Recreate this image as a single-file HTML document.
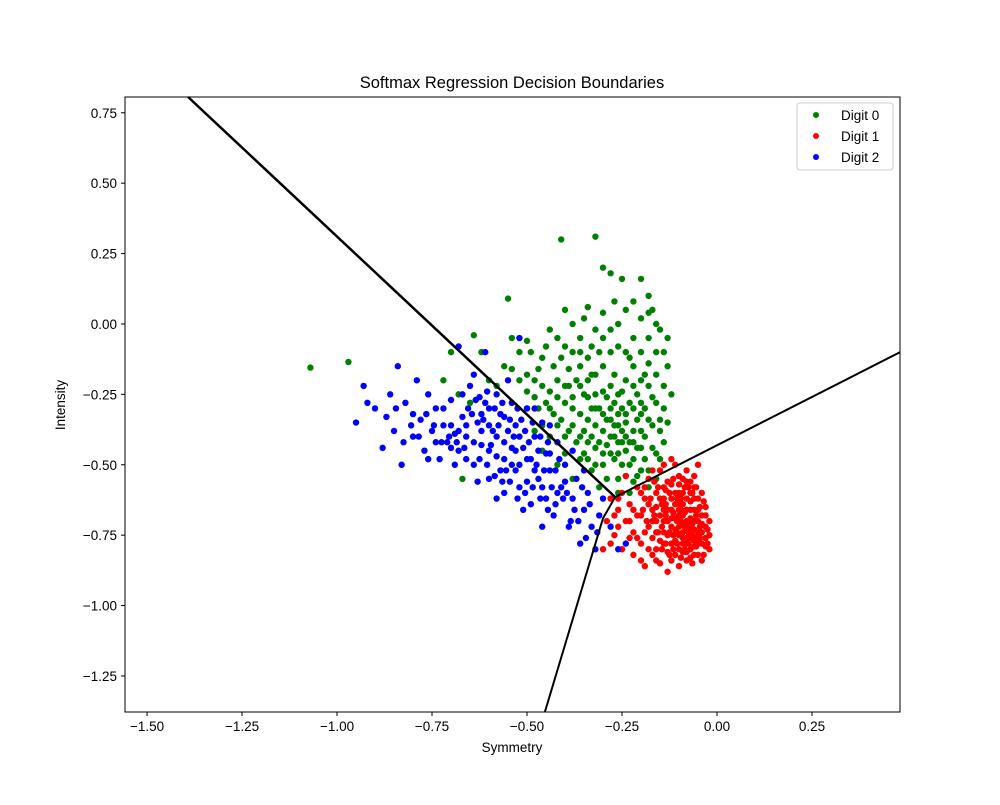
<!DOCTYPE html>
<html><head><meta charset="utf-8"><style>
body{margin:0;background:#fff;}
svg text{font-family:"Liberation Sans","DejaVu Sans",sans-serif;}
</style></head><body>
<svg id="chart" width="1000" height="800" viewBox="0 0 1000 800">
<rect width="1000" height="800" fill="#fff"/>
<text x="512" y="88" text-anchor="middle" font-size="16.5">Softmax Regression Decision Boundaries</text>
<g id="points"></g>
<g id="bounds"></g>
<rect x="125" y="97" width="775" height="615" fill="none" stroke="#000" stroke-width="1"/>
<g id="axes"></g>
<text x="512" y="752" text-anchor="middle" font-size="13.5">Symmetry</text>
<text x="65" y="405" text-anchor="middle" font-size="13.5" transform="rotate(-90 65 405)">Intensity</text>
<g>
<rect x="797" y="103" width="96" height="67" rx="3" fill="#fff" fill-opacity="0.8" stroke="#ccc"/>
<g><circle cx="816" cy="115" r="3" fill="#008000"/><text x="841" y="120" font-size="13.5">Digit 0</text></g>
<g><circle cx="816" cy="136" r="3" fill="#ff0000"/><text x="841" y="141" font-size="13.5">Digit 1</text></g>
<g><circle cx="816" cy="157" r="3" fill="#0000ff"/><text x="841" y="162" font-size="13.5">Digit 2</text></g>
</g>
</svg>
<script>
const xTicks=[-1.5,-1.25,-1.0,-0.75,-0.5,-0.25,0.0,0.25];
const xTickLabels=["−1.50","−1.25","−1.00","−0.75","−0.50","−0.25","0.00","0.25"];
const yTicks=[0.75,0.5,0.25,0.0,-0.25,-0.5,-0.75,-1.0,-1.25];
const yTickLabels=["0.75","0.50","0.25","0.00","−0.25","−0.50","−0.75","−1.00","−1.25"];
const greenPoints=[[-0.42,-0.05],[-0.40,0.05],[-0.38,-0.10],[-0.36,-0.15],[-0.35,0.02],[-0.34,-0.20],[-0.33,-0.08],[-0.32,0.31],[-0.41,0.30],[-0.30,0.20],[-0.28,0.18],[-0.25,0.16],[-0.20,0.16],[-0.18,0.10],[-0.17,0.05],[-0.15,-0.02],[-0.14,-0.10],[-0.13,-0.15],[-0.12,-0.25],[-0.13,-0.35],[-0.14,-0.42],[-0.15,-0.48],[-0.16,-0.55],[-0.18,-0.58],[-0.20,-0.52],[-0.22,-0.48],[-0.24,-0.45],[-0.26,-0.42],[-0.28,-0.40],[-0.30,-0.38],[-0.32,-0.36],[-0.34,-0.34],[-0.36,-0.32],[-0.38,-0.30],[-0.40,-0.28],[-0.42,-0.26],[-0.44,-0.24],[-0.46,-0.22],[-0.48,-0.20],[-0.50,-0.18],[-0.52,-0.10],[-0.54,-0.05],[-0.55,0.09],[-0.56,-0.15],[-0.58,-0.22],[-0.60,-0.20],[-0.62,-0.10],[-0.64,-0.04],[-0.65,-0.28],[-0.68,-0.25],[-0.70,-0.10],[-0.72,-0.20],[-0.67,-0.55],[-0.50,-0.30],[-0.48,-0.38],[-0.46,-0.45],[-0.44,-0.40],[-0.42,-0.50],[-0.40,-0.46],[-0.38,-0.55],[-0.36,-0.48],[-0.34,-0.42],[-0.32,-0.50],[-0.30,-0.46],[-0.28,-0.30],[-0.26,-0.25],[-0.24,-0.20],[-0.22,-0.15],[-0.20,-0.10],[-0.18,-0.22],[-0.16,-0.28],[-0.20,-0.32],[-0.22,-0.38],[-0.24,-0.35],[-0.26,-0.32],[-0.28,-0.22],[-0.30,-0.15],[-0.32,-0.25],[-0.34,-0.12],[-0.36,-0.05],[-0.38,0.00],[-0.30,-0.05],[-0.28,-0.10],[-0.26,0.00],[-0.24,0.05],[-0.22,-0.05],[-0.20,0.02],[-0.18,-0.05],[-0.16,-0.18],[-0.14,-0.30],[-0.19,-0.40],[-0.21,-0.44],[-0.23,-0.28],[-0.25,-0.38],[-0.27,-0.48],[-0.29,-0.55],[-0.31,-0.58],[-0.33,-0.30],[-0.35,-0.25],[-0.37,-0.20],[-0.39,-0.38],[-0.41,-0.34],[-0.43,-0.15],[-0.45,-0.08],[-0.47,-0.30],[-0.49,-0.10],[-1.07,-0.155],[-0.97,-0.135],[-0.23,-0.60],[-0.26,-0.55],[-0.17,-0.36],[-0.15,-0.38],[-0.21,-0.25],[-0.27,-0.36],[-0.31,-0.30],[-0.33,-0.40],[-0.29,-0.43],[-0.25,-0.42],[-0.23,-0.50],[-0.27,-0.28],[-0.29,-0.34],[-0.25,-0.30],[-0.21,-0.34],[-0.19,-0.30],[-0.23,-0.42],[-0.27,-0.40],[-0.31,-0.42],[-0.35,-0.38],[-0.37,-0.42],[-0.39,-0.22],[-0.41,-0.12],[-0.43,-0.32],[-0.45,-0.28],[-0.47,-0.16],[-0.39,-0.16],[-0.33,-0.18],[-0.31,-0.10],[-0.27,-0.18],[-0.23,-0.12],[-0.19,-0.18],[-0.17,-0.26],[-0.15,-0.34],[-0.17,-0.44],[-0.19,-0.48],[-0.21,-0.54],[-0.25,-0.50],[-0.35,-0.46],[-0.33,-0.52],[-0.29,-0.26],[-0.25,-0.24],[-0.24,-0.32],[-0.22,-0.30],[-0.20,-0.28],[-0.26,-0.36],[-0.28,-0.34],[-0.22,-0.42],[-0.20,-0.38],[-0.18,-0.34],[-0.24,-0.40],[-0.26,-0.46],[-0.28,-0.46],[-0.30,-0.50],[-0.32,-0.44],[-0.34,-0.48],[-0.36,-0.40],[-0.38,-0.36],[-0.40,-0.40],[-0.42,-0.36],[-0.44,-0.30],[-0.46,-0.36],[-0.48,-0.26],[-0.50,-0.24],[-0.52,-0.20],[-0.54,-0.16],[-0.30,-0.24],[-0.32,-0.18],[-0.34,-0.26],[-0.36,-0.22],[-0.38,-0.26],[-0.40,-0.22],[-0.30,-0.32],[-0.32,-0.30],[-0.22,-0.22],[-0.20,-0.20],[-0.18,-0.14],[-0.16,-0.10],[-0.24,-0.10],[-0.26,-0.08],[-0.28,-0.02],[-0.30,0.04],[-0.32,-0.02],[-0.34,0.06],[-0.22,0.08],[-0.20,-0.44],[-0.22,-0.56],[-0.18,-0.52],[-0.16,-0.46],[-0.14,-0.22],[-0.13,-0.05],[-0.16,0.00],[-0.18,0.04],[-0.27,0.08],[-0.36,-0.10],[-0.40,-0.08],[-0.44,-0.02],[-0.46,-0.12],[-0.42,-0.20],[-0.50,-0.06],[-0.24,-0.54],[-0.26,-0.60]];
const redPoints=[[-0.02,-0.80],[-0.03,-0.72],[-0.03,-0.65],[-0.04,-0.78],[-0.04,-0.68],[-0.05,-0.62],[-0.05,-0.74],[-0.05,-0.82],[-0.06,-0.70],[-0.06,-0.58],[-0.06,-0.77],[-0.07,-0.66],[-0.07,-0.73],[-0.07,-0.80],[-0.08,-0.62],[-0.08,-0.70],[-0.08,-0.76],[-0.08,-0.84],[-0.09,-0.55],[-0.09,-0.68],[-0.09,-0.74],[-0.10,-0.64],[-0.10,-0.72],[-0.10,-0.80],[-0.11,-0.50],[-0.11,-0.60],[-0.11,-0.77],[-0.12,-0.66],[-0.12,-0.72],[-0.12,-0.84],[-0.13,-0.56],[-0.13,-0.70],[-0.14,-0.62],[-0.14,-0.78],[-0.15,-0.52],[-0.15,-0.68],[-0.16,-0.74],[-0.16,-0.60],[-0.17,-0.82],[-0.17,-0.66],[-0.18,-0.55],[-0.18,-0.72],[-0.19,-0.86],[-0.19,-0.62],[-0.20,-0.78],[-0.20,-0.68],[-0.21,-0.58],[-0.22,-0.74],[-0.22,-0.82],[-0.23,-0.64],[-0.24,-0.70],[-0.25,-0.60],[-0.25,-0.80],[-0.26,-0.66],[-0.27,-0.75],[-0.28,-0.62],[-0.29,-0.70],[-0.30,-0.80],[-0.13,-0.88],[-0.15,-0.85],[-0.10,-0.86],[-0.06,-0.66],[-0.04,-0.74],[-0.05,-0.70],[-0.07,-0.69],[-0.08,-0.78],[-0.09,-0.71],[-0.06,-0.73],[-0.07,-0.76],[-0.09,-0.78],[-0.11,-0.69],[-0.12,-0.62],[-0.10,-0.57],[-0.13,-0.75],[-0.14,-0.70],[-0.16,-0.70],[-0.03,-0.76],[-0.02,-0.70],[-0.04,-0.60],[-0.08,-0.52],[-0.12,-0.48],[-0.05,-0.50],[-0.17,-0.76],[-0.18,-0.64],[-0.21,-0.68],[-0.23,-0.76],[-0.24,-0.54],[-0.11,-0.82],[-0.09,-0.64],[-0.06,-0.82],[-0.07,-0.60],[-0.05,-0.66],[-0.04,-0.84],[-0.10,-0.75],[-0.08,-0.66],[-0.03,-0.68],[-0.04,-0.71],[-0.05,-0.78],[-0.06,-0.62],[-0.07,-0.63],[-0.08,-0.73],[-0.09,-0.60],[-0.09,-0.81],[-0.10,-0.68],[-0.11,-0.64],[-0.11,-0.73],[-0.12,-0.78],[-0.13,-0.66],[-0.13,-0.81],[-0.14,-0.66],[-0.14,-0.74],[-0.15,-0.62],[-0.15,-0.77],[-0.16,-0.65],[-0.16,-0.80],[-0.17,-0.70],[-0.07,-0.56],[-0.06,-0.54],[-0.10,-0.60],[-0.12,-0.57],[-0.14,-0.58],[-0.06,-0.79],[-0.08,-0.81],[-0.03,-0.79],[-0.02,-0.75],[-0.12,-0.69],[-0.10,-0.66],[-0.09,-0.76],[-0.07,-0.83],[-0.19,-0.74],[-0.20,-0.60],[-0.22,-0.66],[-0.26,-0.72],[-0.28,-0.78],[-0.035,-0.63],[-0.045,-0.65],[-0.055,-0.68],[-0.065,-0.71],[-0.075,-0.74],[-0.085,-0.67],[-0.095,-0.66],[-0.105,-0.70],[-0.115,-0.67],[-0.125,-0.74],[-0.135,-0.64],[-0.145,-0.72],[-0.155,-0.74],[-0.165,-0.68],[-0.175,-0.62],[-0.035,-0.82],[-0.045,-0.76],[-0.055,-0.79],[-0.065,-0.85],[-0.075,-0.78],[-0.085,-0.80],[-0.095,-0.83],[-0.105,-0.78],[-0.115,-0.80],[-0.125,-0.82],[-0.135,-0.78],[-0.145,-0.80],[-0.055,-0.58],[-0.065,-0.60],[-0.075,-0.58],[-0.085,-0.58],[-0.095,-0.62],[-0.105,-0.62],[-0.115,-0.55],[-0.125,-0.60],[-0.135,-0.59],[-0.145,-0.64],[-0.155,-0.58],[-0.165,-0.56],[-0.045,-0.72],[-0.055,-0.76],[-0.065,-0.75],[-0.075,-0.71],[-0.085,-0.72],[-0.095,-0.70],[-0.105,-0.74],[-0.115,-0.75],[-0.025,-0.73],[-0.025,-0.78],[-0.135,-0.68],[-0.185,-0.70],[-0.195,-0.66],[-0.21,-0.76],[-0.23,-0.70],[-0.18,-0.80],[-0.20,-0.84],[-0.16,-0.84],[-0.26,-0.62],[-0.27,-0.68],[-0.19,-0.58],[-0.17,-0.52],[-0.14,-0.50],[-0.10,-0.54],[-0.08,-0.56]];
const bluePoints=[[-0.95,-0.35],[-0.93,-0.22],[-0.90,-0.30],[-0.88,-0.44],[-0.87,-0.33],[-0.85,-0.38],[-0.84,-0.15],[-0.83,-0.50],[-0.82,-0.28],[-0.80,-0.40],[-0.79,-0.20],[-0.78,-0.34],[-0.77,-0.45],[-0.76,-0.25],[-0.75,-0.38],[-0.74,-0.30],[-0.73,-0.48],[-0.72,-0.36],[-0.71,-0.42],[-0.70,-0.27],[-0.69,-0.39],[-0.68,-0.08],[-0.68,-0.45],[-0.67,-0.33],[-0.66,-0.40],[-0.65,-0.22],[-0.64,-0.50],[-0.63,-0.35],[-0.62,-0.43],[-0.61,-0.10],[-0.61,-0.28],[-0.60,-0.55],[-0.59,-0.38],[-0.58,-0.47],[-0.57,-0.32],[-0.56,-0.60],[-0.56,-0.42],[-0.55,-0.20],[-0.54,-0.50],[-0.53,-0.36],[-0.52,-0.58],[-0.52,-0.05],[-0.51,-0.44],[-0.50,-0.30],[-0.49,-0.64],[-0.49,-0.48],[-0.48,-0.40],[-0.47,-0.55],[-0.46,-0.35],[-0.45,-0.62],[-0.45,-0.46],[-0.44,-0.52],[-0.43,-0.68],[-0.42,-0.42],[-0.41,-0.58],[-0.40,-0.50],[-0.39,-0.72],[-0.38,-0.62],[-0.37,-0.55],[-0.36,-0.78],[-0.35,-0.66],[-0.34,-0.60],[-0.33,-0.72],[-0.32,-0.80],[-0.31,-0.68],[-0.30,-0.62],[-0.60,-0.30],[-0.58,-0.25],[-0.66,-0.48],[-0.70,-0.36],[-0.74,-0.42],[-0.64,-0.18],[-0.57,-0.52],[-0.53,-0.45],[-0.50,-0.56],[-0.47,-0.45],[-0.55,-0.38],[-0.62,-0.32],[-0.67,-0.25],[-0.72,-0.30],[-0.80,-0.32],[-0.86,-0.25],[-0.92,-0.28],[-0.60,-0.45],[-0.54,-0.28],[-0.48,-0.30],[-0.44,-0.36],[-0.42,-0.60],[-0.38,-0.45],[-0.35,-0.52],[-0.28,-0.72],[-0.26,-0.80],[-0.24,-0.78],[-0.58,-0.62],[-0.51,-0.66],[-0.46,-0.72],[-0.53,-0.52],[-0.63,-0.56],[-0.69,-0.50],[-0.76,-0.48],[-0.56,-0.48],[-0.52,-0.40],[-0.50,-0.48],[-0.54,-0.44],[-0.58,-0.40],[-0.62,-0.38],[-0.66,-0.36],[-0.64,-0.42],[-0.60,-0.36],[-0.56,-0.33],[-0.52,-0.50],[-0.48,-0.52],[-0.46,-0.58],[-0.44,-0.46],[-0.40,-0.56],[-0.70,-0.44],[-0.68,-0.38],[-0.655,-0.30],[-0.635,-0.27],[-0.615,-0.34],[-0.595,-0.43],[-0.575,-0.36],[-0.555,-0.52],[-0.535,-0.40],[-0.515,-0.34],[-0.495,-0.42],[-0.475,-0.50],[-0.455,-0.52],[-0.435,-0.58],[-0.415,-0.48],[-0.395,-0.60],[-0.375,-0.66],[-0.355,-0.58],[-0.335,-0.64],[-0.315,-0.74],[-0.625,-0.48],[-0.605,-0.50],[-0.585,-0.54],[-0.565,-0.56],[-0.545,-0.56],[-0.525,-0.62],[-0.505,-0.60],[-0.485,-0.58],[-0.465,-0.62],[-0.445,-0.66],[-0.425,-0.64],[-0.685,-0.42],[-0.705,-0.40],[-0.725,-0.42],[-0.745,-0.36],[-0.765,-0.32],[-0.785,-0.40],[-0.805,-0.36],[-0.825,-0.42],[-0.845,-0.30],[-0.665,-0.44],[-0.645,-0.32],[-0.625,-0.26],[-0.605,-0.24],[-0.585,-0.30],[-0.565,-0.28],[-0.545,-0.34],[-0.525,-0.30],[-0.505,-0.38],[-0.485,-0.35],[-0.465,-0.40],[-0.445,-0.42],[-0.425,-0.52],[-0.405,-0.62],[-0.385,-0.70],[-0.365,-0.70],[-0.345,-0.76]];
const boundaryA=[[-1.392,0.806],[-0.268,-0.615]];
const boundaryB=[[-0.268,-0.615],[0.482,-0.10]];
const boundaryC=[[-0.268,-0.615],[-0.30,-0.69],[-0.453,-1.378]];
const X0=125,X1=900,Y0=97,Y1=712,xmin=-1.558,xmax=0.4816,ymin=-1.378,ymax=0.806;
const sx=v=>X0+(v-xmin)/(xmax-xmin)*(X1-X0);
const sy=v=>Y1-(v-ymin)/(ymax-ymin)*(Y1-Y0);
const NS="http://www.w3.org/2000/svg";
const P=document.getElementById('points'),B=document.getElementById('bounds'),A=document.getElementById('axes');
function mk(t,a){const e=document.createElementNS(NS,t);for(const k in a)e.setAttribute(k,a[k]);return e;}
function series(pts,col,name){pts.forEach(p=>{const c=mk('circle',{cx:sx(p[0]),cy:sy(p[1]),r:3.2,fill:col});


P.appendChild(c);});}
series(greenPoints,'#008000','digit-0-point');
series(redPoints,'#ff0000','digit-1-point');
series(bluePoints,'#0000ff','digit-2-point');
[[boundaryA,2.5,'boundary-0-2'],[boundaryB,2,'boundary-0-1'],[boundaryC,2,'boundary-1-2']].forEach(b=>{
const l=mk('polyline',{points:b[0].map(p=>sx(p[0])+','+sy(p[1])).join(' '),fill:'none',stroke:'#000','stroke-width':b[1]});


B.appendChild(l);});
xTicks.forEach((v,i)=>{const x=sx(v);A.appendChild(mk('line',{x1:x,x2:x,y1:Y1,y2:Y1+4,stroke:'#000'}));
const t=mk('text',{x:x,y:Y1+19,'text-anchor':'middle','font-size':13.5});t.textContent=xTickLabels[i];


A.appendChild(t);});
yTicks.forEach((v,i)=>{const y=sy(v);A.appendChild(mk('line',{x1:X0-4,x2:X0,y1:y,y2:y,stroke:'#000'}));
const t=mk('text',{x:X0-8,y:y+5,'text-anchor':'end','font-size':13.5});t.textContent=yTickLabels[i];


A.appendChild(t);});
</script>
</body></html>
